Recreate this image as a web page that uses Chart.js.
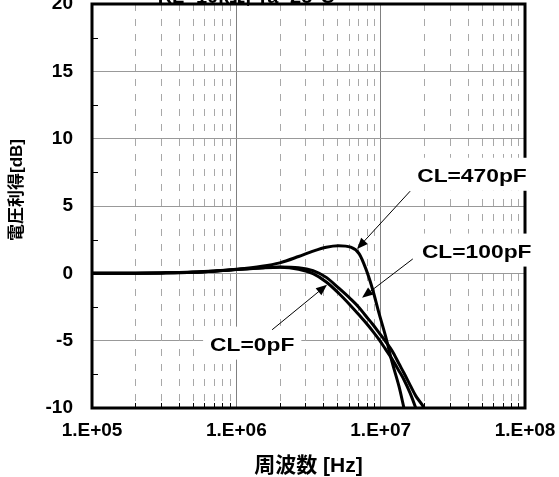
<!DOCTYPE html>
<html>
<head>
<meta charset="utf-8">
<script src="https://cdn.jsdelivr.net/npm/chart.js@4.4.1/dist/chart.umd.min.js"></script>
<style>
  html, body { margin: 0; padding: 0; background: #fff; }
  #wrap { width: 559px; height: 477px; }
</style>
</head>
<body>
<div id="wrap"><canvas id="gainChart" width="559" height="477"></canvas></div>
<script>
// --- Frequency response data (gain in dB vs frequency in Hz) ---
const freqHz = [1e5, 2e5, 3e5, 5e5, 7e5, 1e6, 1.5e6, 2e6, 2.7e6, 3.4e6, 4.2e6, 5.1e6, 6.2e6,
                7.1e6, 7.9e6, 8.8e6, 9.7e6, 10.8e6, 12e6, 13.4e6, 14.5e6, 16e6, 17.5e6, 20e6, 22e6];
const gainCL0 = [0, 0.01, 0.03, 0.08, 0.16, 0.28, 0.40, 0.45, 0.31, -0.02, -0.64, -1.46, -2.40,
                 -3.10, -3.67, -4.29, -4.89, -5.63, -6.37, -7.25, -7.90, -8.90, -10.0, -11.8, -13.0];
const gainCL100 = [0, 0.01, 0.03, 0.08, 0.16, 0.28, 0.41, 0.47, 0.42, 0.20, -0.30, -1.08, -1.91,
                   -2.55, -3.17, -3.78, -4.38, -5.05, -5.75, -6.72, -7.40, -8.30, -9.10, -10.0, -11.0];
const gainCL470 = [0, 0.01, 0.03, 0.09, 0.17, 0.30, 0.52, 0.78, 1.25, 1.65, 1.94, 2.05, 1.94,
                   1.45, 0.33, -1.20, -2.90, -4.65, -6.60, -8.40, -10.0, -12.0, -14.0, -17.0, -19.0];

// axis ticks
const decadeTicks = [1e5, 1e6, 1e7, 1e8];
const gainMin = -10, gainMax = 20, gainStep = 5, gainMinorStep = 2.5;

// curve labels: text position (left edge, baseline) and arrow tail -> tip, all in data units
const curveLabels = [
  { text: 'CL=470pF', at: [1.79e7, 6.8],  tail: [1.6e7, 6.1],   tip: [6.86e6, 1.81] },
  { text: 'CL=100pF', at: [1.93e7, 1.17], tail: [1.67e7, 1.07], tip: [7.43e6, -1.81] },
  { text: 'CL=0pF',   at: [6.58e5, -5.74], tail: [1.77e6, -4.19], tip: [4.25e6, -0.85] }
];
const condText = 'RL=10kΩ, Ta=25°C';
const xTitle = '周波数 [Hz]';
const yTitle = '電圧利得[dB]';

const latinBold = 'bold 19px "Liberation Sans", Arial, sans-serif';

// every 1..9 x 10^n tick between 1e5 and 1e8
const allFreqTicks = [];
decadeTicks.forEach((d, i) => {
  if (i === decadeTicks.length - 1) { allFreqTicks.push(d); return; }
  for (let m = 1; m <= 9; m++) allFreqTicks.push(m * d);
});
const isDecade = v => decadeTicks.some(d => Math.abs(v - d) / d < 1e-9);
const minorFreqs = allFreqTicks.filter(v => !isDecade(v));

function fmtExp(v) {
  const e = Math.round(Math.log10(v));
  return '1.E+' + String(e).padStart(2, '0');
}

function drawArrow(ctx, x0, y0, x1, y1) {
  const ang = Math.atan2(y1 - y0, x1 - x0);
  const len = 11, half = 4.5;
  ctx.beginPath();
  ctx.moveTo(x0, y0);
  ctx.lineTo(x1 - Math.cos(ang) * len * 0.8, y1 - Math.sin(ang) * len * 0.8);
  ctx.lineWidth = 1;
  ctx.strokeStyle = '#000';
  ctx.stroke();
  ctx.beginPath();
  ctx.moveTo(x1, y1);
  ctx.lineTo(x1 - Math.cos(ang) * len - Math.sin(ang) * half, y1 - Math.sin(ang) * len + Math.cos(ang) * half);
  ctx.lineTo(x1 - Math.cos(ang) * len + Math.sin(ang) * half, y1 - Math.sin(ang) * len - Math.cos(ang) * half);
  ctx.closePath();
  ctx.fillStyle = '#000';
  ctx.fill();
}

// --- Extra drawing: dashed minor grid, inner ticks, frame, labels, titles ---
const decorations = {
  id: 'decorations',
  beforeDatasetsDraw(chart) {
    const { ctx, chartArea: a, scales: { x, y } } = chart;
    ctx.save();
    ctx.strokeStyle = '#a8a8a8';
    ctx.lineWidth = 1;
    ctx.setLineDash([7, 8]);
    minorFreqs.forEach(f => {
      const px = Math.round(x.getPixelForValue(f)) + 0.5;
      ctx.beginPath();
      ctx.moveTo(px, a.top);
      ctx.lineTo(px, a.bottom);
      ctx.stroke();
    });
    ctx.setLineDash([]);

    // inner minor ticks on the bottom axis
    ctx.strokeStyle = '#000';
    minorFreqs.forEach(f => {
      const px = Math.round(x.getPixelForValue(f)) + 0.5;
      ctx.beginPath();
      ctx.moveTo(px, a.bottom);
      ctx.lineTo(px, a.bottom - 5);
      ctx.stroke();
    });
    // inner minor ticks on the left axis
    for (let v = gainMin + gainMinorStep; v < gainMax; v += gainStep) {
      const py = Math.round(y.getPixelForValue(v)) + 0.5;
      ctx.beginPath();
      ctx.moveTo(a.left, py);
      ctx.lineTo(a.left + 6, py);
      ctx.stroke();
    }

    // test condition, mostly hidden above the plot
    ctx.font = 'bold 20px "Liberation Sans", Arial, sans-serif';
    ctx.fillStyle = '#000';
    ctx.textAlign = 'center';
    ctx.textBaseline = 'alphabetic';
    ctx.fillText(condText, x.getPixelForValue(1.17e6), a.top - 1);
    ctx.restore();
  },
  afterDatasetsDraw(chart) {
    const { ctx, chartArea: a, scales: { x, y } } = chart;
    ctx.save();
    // frame
    ctx.strokeStyle = '#000';
    ctx.lineWidth = 3;
    ctx.strokeRect(a.left, a.top, a.right - a.left, a.bottom - a.top);

    // curve labels on white boxes, with arrows
    ctx.font = latinBold;
    ctx.textAlign = 'left';
    ctx.textBaseline = 'alphabetic';
    const sx = 1.2;
    curveLabels.forEach(l => {
      const lx = x.getPixelForValue(l.at[0]);
      const ly = y.getPixelForValue(l.at[1]);
      const w = ctx.measureText(l.text).width * sx;
      ctx.fillStyle = '#fff';
      ctx.fillRect(lx - 7, ly - 24, w + 14, 33);
      ctx.save();
      ctx.translate(lx, ly);
      ctx.scale(sx, 1);
      ctx.fillStyle = '#000';
      ctx.fillText(l.text, 0, 0);
      ctx.restore();
      drawArrow(ctx,
        x.getPixelForValue(l.tail[0]), y.getPixelForValue(l.tail[1]),
        x.getPixelForValue(l.tip[0]), y.getPixelForValue(l.tip[1]));
    });

    // axis titles
    ctx.fillStyle = '#000';
    ctx.font = 'bold 21px "Liberation Sans", "Noto Sans CJK JP", sans-serif';
    ctx.textAlign = 'center';
    ctx.textBaseline = 'middle';
    ctx.fillText(xTitle, (a.left + a.right) / 2, 466);

    ctx.save();
    ctx.translate(17, (a.top + a.bottom) / 2 - 16);
    ctx.rotate(-Math.PI / 2);
    ctx.font = 'bold 17px "Liberation Sans", "Noto Sans CJK JP", sans-serif';
    ctx.fillText(yTitle, 0, 0);
    ctx.restore();
    ctx.restore();
  }
};

const curveStyle = {
  borderColor: '#000',
  borderWidth: 3,
  pointRadius: 0,
  fill: false,
  cubicInterpolationMode: 'monotone'
};

const toPoints = g => freqHz.map((f, i) => ({ x: f, y: g[i] }));

new Chart(document.getElementById('gainChart').getContext('2d'), {
  type: 'line',
  data: {
    datasets: [
      Object.assign({ label: 'CL=0pF', data: toPoints(gainCL0) }, curveStyle),
      Object.assign({ label: 'CL=100pF', data: toPoints(gainCL100) }, curveStyle),
      Object.assign({ label: 'CL=470pF', data: toPoints(gainCL470) }, curveStyle)
    ]
  },
  options: {
    responsive: false,
    animation: false,
    devicePixelRatio: 1,
    layout: { padding: { top: 4, right: 34, left: 0, bottom: 0 } },
    plugins: { legend: { display: false }, tooltip: { enabled: false } },
    scales: {
      x: {
        type: 'logarithmic',
        min: 1e5,
        max: 1e8,
        afterBuildTicks: scale => { scale.ticks = allFreqTicks.map(v => ({ value: v })); },
        afterFit: scale => {
          scale.height = 69;
          scale.paddingLeft = 0;
          scale.paddingRight = 0;
        },
        border: { display: false },
        grid: {
          drawTicks: false,
          lineWidth: 1,
          color: c => (c.tick && isDecade(c.tick.value)) ? '#808080' : 'rgba(0,0,0,0)'
        },
        ticks: {
          autoSkip: false,
          maxRotation: 0,
          padding: 11,
          color: '#000',
          font: { family: '"Liberation Sans", Arial, sans-serif', size: 19, weight: 'bold' },
          callback: v => isDecade(v) ? fmtExp(v) : ''
        }
      },
      y: {
        min: gainMin,
        max: gainMax,
        afterFit: scale => {
          scale.width = 92;
          scale.paddingTop = 0;
          scale.paddingBottom = 0;
        },
        border: { display: false },
        grid: { drawTicks: false, color: '#999', lineWidth: 1 },
        ticks: {
          stepSize: gainStep,
          padding: 19,
          color: '#000',
          font: { family: '"Liberation Sans", Arial, sans-serif', size: 19, weight: 'bold' }
        }
      }
    }
  },
  plugins: [decorations]
});
</script>
</body>
</html>
